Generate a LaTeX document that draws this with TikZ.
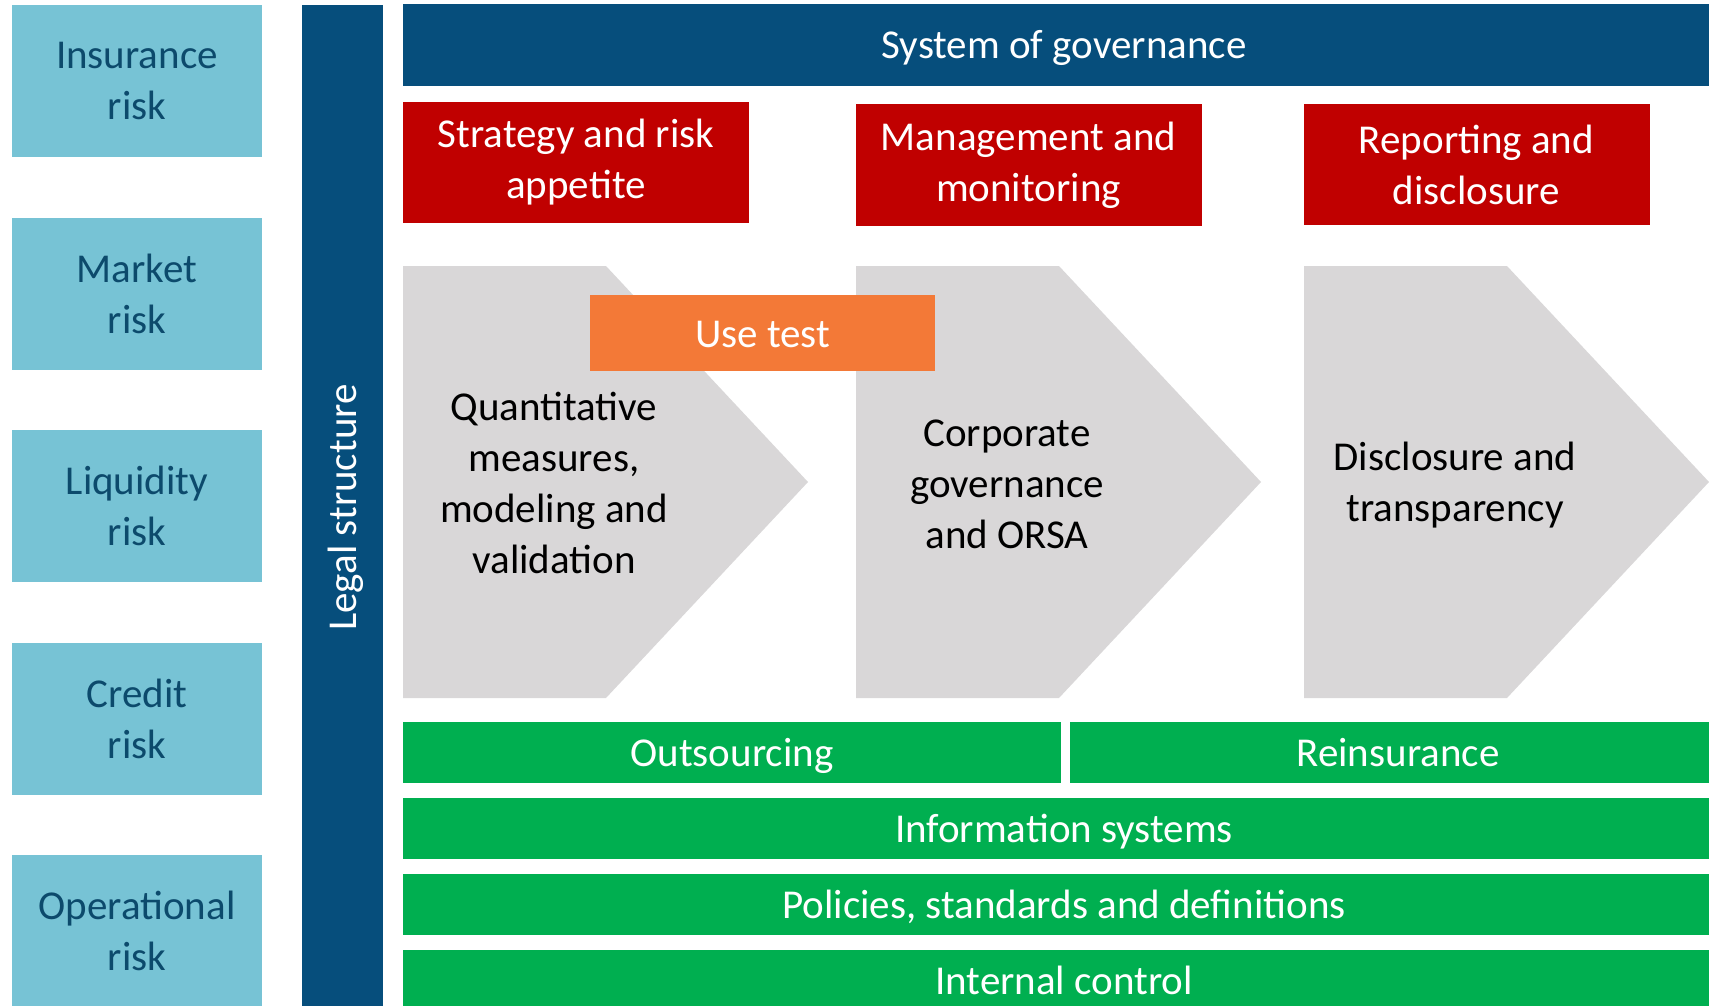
\documentclass[tikz,border=0pt]{standalone}
\usepackage{fontspec}
\setmainfont{Carlito}
\usepackage{tikz}

\definecolor{riskblue}{HTML}{77C3D5}
\definecolor{risktext}{HTML}{0C4A6C}
\definecolor{navy}{HTML}{064E7C}
\definecolor{govred}{HTML}{C00000}
\definecolor{useorange}{HTML}{F37937}
\definecolor{chevgray}{HTML}{D9D7D8}
\definecolor{bargreen}{HTML}{00AF50}

\begin{document}
\begin{tikzpicture}[x=1pt, y=-1pt,
        every node/.style={font=\fontsize{41}{51}\selectfont, align=center, inner sep=0pt},
        oneline/.style={text height=39pt, text depth=11pt},
        riskbox/.style={fill=riskblue, text=risktext, minimum width=250pt, minimum height=152pt},
        navybar/.style={oneline, fill=navy, text=white},
        redbox/.style={fill=govred, text=white, minimum width=346pt, minimum height=121pt},
        greenbar/.style={oneline, fill=bargreen, text=white, minimum height=61pt}]

        % page frame
        \useasboundingbox (0,0) rectangle (1709,1006);
        \clip (0,0) rectangle (1709,1006);

        % the risk boxes
        \node[riskbox] (ins) at (137,81) {Insurance\\risk};
        \node[riskbox] (mkt) at (137,294) {Market\\risk};
        \node[riskbox] (liq) at (137,506) {Liquidity\\risk};
        \node[riskbox] (cred) at (137,719) {Credit\\risk};
        \node[riskbox] (oper) at (137,931) {Operational\\risk};

        % the legal bar and the governance bar
        \node[navybar, rotate=90, minimum width=1005pt, minimum height=81pt] (legal) at (342.5,507.5) {Legal structure};
        \node[navybar, minimum width=1322pt, minimum height=82pt] (gov) at (1064,45) {System of governance};

        % the red boxes
        \node[redbox] (strat) at (576,162.5) {Strategy and risk\\appetite};
        \node[redbox] (mgmt) at (1028.5,165) {Management and\\monitoring};
        \node[redbox] (rep) at (1476.5,164.5) {Reporting and\\disclosure};

        % draw the chevrons
        \fill[chevgray] (403,266) -- ++(203,0) -- ++(202,216) -- ++(-202,216) -- ++(-203,0) -- cycle;
        \fill[chevgray] (856,266) -- ++(203,0) -- ++(202,216) -- ++(-202,216) -- ++(-203,0) -- cycle;
        \fill[chevgray] (1304,266) -- ++(203,0) -- ++(202,216) -- ++(-202,216) -- ++(-203,0) -- cycle;

        \node (quant) at (554,483) {Quantitative\\measures,\\modeling and\\validation};
        \node (corp) at (1007,484) {Corporate\\governance\\and ORSA};
        \node (discl) at (1455,485) {Disclosure and\\transparency};

        \node[oneline, fill=useorange, text=white, minimum width=345pt, minimum height=76pt] (use) at (762.5,333) {Use test};

        % the green bars
        \node[greenbar, minimum width=658pt] (outs) at (732,752.5) {Outsourcing};
        \node[greenbar, minimum width=656pt] (reins) at (1398,752.5) {Reinsurance};
        \node[greenbar, minimum width=1322pt] (info) at (1064,828.5) {Information systems};
        \node[greenbar, minimum width=1322pt] (pol) at (1064,904.5) {Policies, standards and definitions};
        \node[greenbar, minimum width=1322pt] (ictrl) at (1064,980.5) {Internal control};

\end{tikzpicture}
\end{document}
